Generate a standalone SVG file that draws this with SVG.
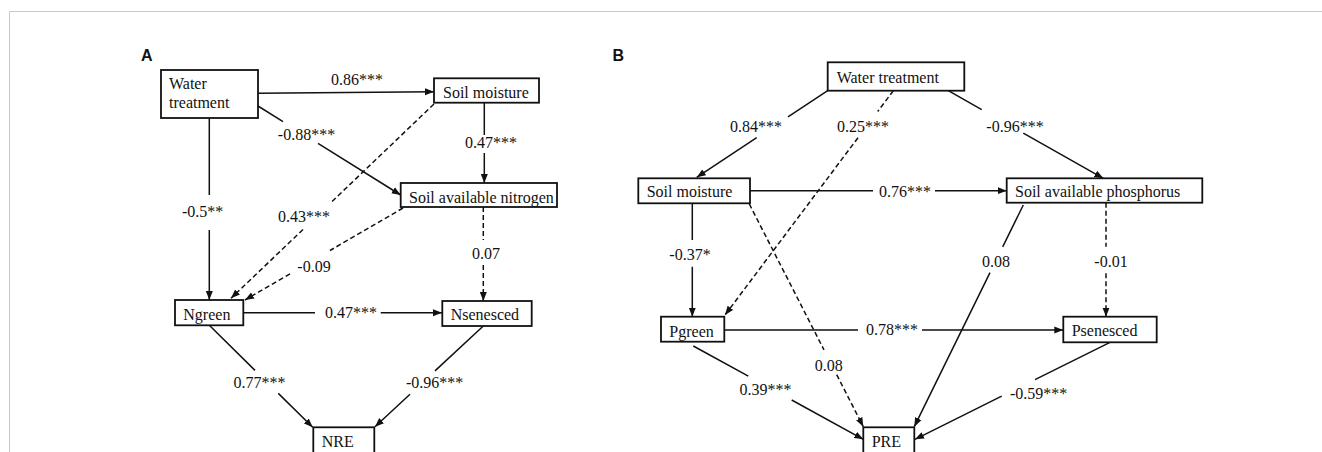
<svg xmlns="http://www.w3.org/2000/svg" width="1322" height="452" viewBox="0 0 1322 452">
<style>
.box{fill:#fff;stroke:#111;stroke-width:1.8}
.t{font-family:"Liberation Serif","Times New Roman",serif;font-size:16px;fill:#111}
.lb{font-family:"Liberation Serif","Times New Roman",serif;font-size:16px;fill:#111;text-anchor:middle}
.c{fill:none;stroke:#111;stroke-width:1.5}
.d{stroke-dasharray:5 3}
.pl{font-family:"Liberation Sans",Arial,sans-serif;font-size:16px;font-weight:bold;fill:#111}
</style>
<defs>
<marker id="ah" markerUnits="userSpaceOnUse" markerWidth="10" markerHeight="8" refX="9" refY="4" orient="auto">
<path d="M0,0.5 L9,4 L0,7.5 Z" fill="#111"/>
</marker>
</defs>
<rect width="1322" height="452" fill="#fff"/>
<path d="M9.5,452 L9.5,11.5 L1322,11.5" fill="none" stroke="#c8c8c8" stroke-width="1"/>
<text class="pl" x="141" y="61">A</text>
<text class="pl" x="612.5" y="61">B</text>

<g id="connectors">
<path class="c" marker-end="url(#ah)" d="M257.7,93.3 L434,91.7"/>
<path class="c" marker-end="url(#ah)" d="M258,106 L283,121.6 M318,143.4 L400.7,195"/>
<path class="c" marker-end="url(#ah)" d="M484.3,102.7 L484.3,135 M484.3,153 L484.3,183"/>
<path class="c" marker-end="url(#ah)" d="M209.3,117.7 L209.3,195 M209.3,230 L209.3,300"/>
<path class="c d" marker-end="url(#ah)" d="M434,104 L330,203.5 M303,229.5 L231,298.3"/>
<path class="c d" marker-end="url(#ah)" d="M403,208 L330,250.5 M290,273.8 L245,300"/>
<path class="c d" marker-end="url(#ah)" d="M483.3,207 L483.3,240 M483.3,265 L483.3,301"/>
<path class="c" marker-end="url(#ah)" d="M243.3,312.7 L315,312.7 M380.7,312.7 L442,312.7"/>
<path class="c" marker-end="url(#ah)" d="M209.3,325.3 L255,370.4 M278.3,393.4 L312.7,427.3"/>
<path class="c" marker-end="url(#ah)" d="M483.3,326 L435,370.9 M410,394.2 L375,426.7"/>

<path class="c" marker-end="url(#ah)" d="M827.7,90.7 L788,116.9 M756.7,137.6 L696.7,177.3"/>
<path class="c d" marker-end="url(#ah)" d="M893.3,90.7 L877.7,111.5 M858,137.7 L725,315"/>
<path class="c" marker-end="url(#ah)" d="M948.3,90.7 L981.7,109.6 M1023.3,133.1 L1103.3,178.3"/>
<path class="c" marker-end="url(#ah)" d="M750,190.7 L873,190.7 M935,190.7 L1006.7,190.7"/>
<path class="c" marker-end="url(#ah)" d="M692.3,203.3 L692.3,240 M692.3,266.7 L692.3,316.7"/>
<path class="c d" marker-end="url(#ah)" d="M749.3,204 L824,349.9 M836.7,374.7 L863.3,426.7"/>
<path class="c" marker-end="url(#ah)" d="M724.3,330 L858,330 M922,330 L1063.3,330"/>
<path class="c" marker-end="url(#ah)" d="M693.3,346 L748.3,376.2 M791.7,400 L863.3,439.3"/>
<path class="c" marker-end="url(#ah)" d="M1023.3,205 L1002.7,246.9 M990,272.7 L914.3,426.7"/>
<path class="c d" marker-end="url(#ah)" d="M1106,202.7 L1106,246.7 M1106,273.3 L1106,316.7"/>
<path class="c" marker-end="url(#ah)" d="M1110,342.3 L1035,379.6 M1001.7,396.2 L915,439.3"/>
</g>

<g id="labels">
<text class="lb" x="357" y="85">0.86***</text>
<text class="lb" x="306.5" y="140">-0.88***</text>
<text class="lb" x="491" y="148">0.47***</text>
<text class="lb" x="202.7" y="217">-0.5**</text>
<text class="lb" x="304" y="222">0.43***</text>
<text class="lb" x="314" y="271.7">-0.09</text>
<text class="lb" x="486" y="259.3">0.07</text>
<text class="lb" x="351" y="317.7">0.47***</text>
<text class="lb" x="259.5" y="388">0.77***</text>
<text class="lb" x="434.7" y="388">-0.96***</text>

<text class="lb" x="756" y="131.7">0.84***</text>
<text class="lb" x="863" y="131.7">0.25***</text>
<text class="lb" x="1015" y="131.7">-0.96***</text>
<text class="lb" x="905" y="196.7">0.76***</text>
<text class="lb" x="690" y="260">-0.37*</text>
<text class="lb" x="828.7" y="370.7">0.08</text>
<text class="lb" x="892" y="335">0.78***</text>
<text class="lb" x="765.5" y="395">0.39***</text>
<text class="lb" x="996" y="266.7">0.08</text>
<text class="lb" x="1111" y="266.7">-0.01</text>
<text class="lb" x="1038.7" y="399.3">-0.59***</text>
</g>

<g id="A-water"><rect class="box" x="161" y="70" width="97" height="48"/><text class="t" x="169" y="89">Water</text><text class="t" x="169" y="108">treatment</text></g>
<g id="A-soilmoisture"><rect class="box" x="434" y="78.3" width="105" height="24.4"/><text class="t" x="443" y="98">Soil moisture</text></g>
<g id="A-san"><rect class="box" x="400.7" y="183" width="156.3" height="24"/><text class="t" x="409" y="202.5">Soil available nitrogen</text></g>
<g id="A-ngreen"><rect class="box" x="175" y="300" width="68.3" height="25.3"/><text class="t" x="183.3" y="319.5">Ngreen</text></g>
<g id="A-nsenesced"><rect class="box" x="442.3" y="301" width="89.4" height="25"/><text class="t" x="450.7" y="320">Nsenesced</text></g>
<g id="A-nre"><rect class="box" x="313.3" y="427.3" width="61" height="27"/><text class="t" x="321.7" y="446.7">NRE</text></g>

<g id="B-water"><rect class="box" x="827.7" y="62.3" width="136.6" height="28.4"/><text class="t" x="836.7" y="82.7">Water treatment</text></g>
<g id="B-soilmoisture"><rect class="box" x="638.3" y="178.3" width="111.7" height="25"/><text class="t" x="646.7" y="197.3">Soil moisture</text></g>
<g id="B-sap"><rect class="box" x="1006.7" y="178.3" width="195.6" height="24.4"/><text class="t" x="1015" y="197.3">Soil available phosphorus</text></g>
<g id="B-pgreen"><rect class="box" x="661" y="316.7" width="63.3" height="25"/><text class="t" x="669.3" y="336.5">Pgreen</text></g>
<g id="B-psenesced"><rect class="box" x="1063.3" y="316.7" width="93.4" height="25.6"/><text class="t" x="1071.7" y="336">Psenesced</text></g>
<g id="B-pre"><rect class="box" x="863.3" y="427.3" width="51" height="27"/><text class="t" x="871.7" y="446.7">PRE</text></g>
</svg>
